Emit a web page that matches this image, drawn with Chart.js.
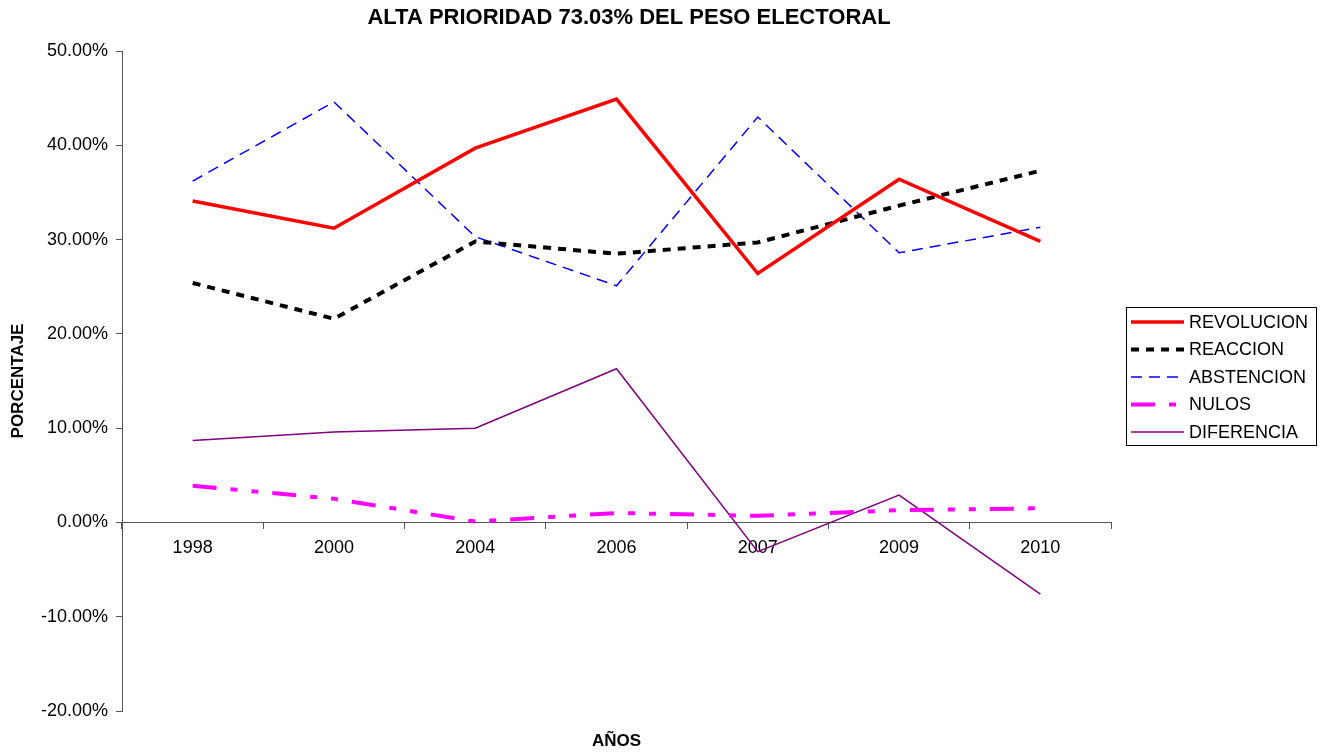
<!DOCTYPE html>
<html><head><meta charset="utf-8">
<script src="https://cdn.jsdelivr.net/npm/chart.js@4/dist/chart.umd.min.js"></script>
<style>html,body{margin:0;padding:0;background:#fff;}#wrap{width:1325px;height:752px;position:relative;}</style>
</head><body><div id="wrap"><canvas id="c" width="1325" height="752"></canvas></div>
<script>
const years = ['1998','2000','2004','2006','2007','2009','2010'];
const revolucion = [34.1, 31.2, 39.7, 44.9, 26.4, 36.4, 29.8];
const reaccion   = [25.4, 21.6, 29.8, 28.5, 29.7, 33.6, 37.3];
const abstencion = [36.2, 44.6, 30.3, 25.1, 43.0, 28.6, 31.3];
const nulos      = [3.9, 2.5, 0.1, 1.0, 0.7, 1.3, 1.5];
const diferencia = [8.7, 9.6, 10.0, 16.3, -3.1, 2.9, -7.6];
const seriesNames = ['REVOLUCION','REACCION','ABSTENCION','NULOS','DIFERENCIA'];
const yMin = -20, yMax = 50, yStep = 10;
const titleText = 'ALTA PRIORIDAD 73.03% DEL PESO ELECTORAL';
const yTitle = 'PORCENTAJE';
const xTitle = 'AÑOS';

const FONT = "'Liberation Sans', Arial, sans-serif";

const datasets = [
  {label: seriesNames[0], data: revolucion, borderColor:'#ff0000', borderWidth:3.5, borderDash:[]},
  {label: seriesNames[1], data: reaccion, borderColor:'#000000', borderWidth:4, borderDash:[8,7]},
  {label: seriesNames[2], data: abstencion, borderColor:'#0000ff', borderWidth:1.5, borderDash:[11,7]},
  {label: seriesNames[3], data: nulos, borderColor:'#ff00ff', borderWidth:4, borderDash:[24,14,7,14,7,14]},
  {label: seriesNames[4], data: diferencia, borderColor:'#800080', borderWidth:1.5, borderDash:[]}
].map(d => Object.assign(d, {fill:false, tension:0, pointRadius:0, pointHoverRadius:0, borderCapStyle:'butt', borderJoinStyle:'miter'}));

const textPlugin = {
  id:'texts',
  afterDraw(chart){
    const ctx = chart.ctx;
    const ca = chart.chartArea;
    ctx.save();
    ctx.fillStyle = '#000';
    ctx.textAlign = 'center';
    ctx.textBaseline = 'middle';
    ctx.font = "bold 22px " + FONT;
    ctx.fillText(titleText, 629, 18);
    ctx.font = "bold 17px " + FONT;
    ctx.fillText(xTitle, (ca.left+ca.right)/2, 741);
    ctx.save();
    ctx.translate(18, (ca.top+ca.bottom)/2);
    ctx.rotate(-Math.PI/2);
    ctx.fillText(yTitle, 0, 0);
    ctx.restore();
    // legend
    const lx = 1126.5, ly = 307.5, lw = 190, lh = 138;
    ctx.fillStyle = '#fff';
    ctx.fillRect(lx, ly, lw, lh);
    ctx.strokeStyle = '#000';
    ctx.lineWidth = 1;
    ctx.strokeRect(lx, ly, lw, lh);
    chart.data.datasets.forEach((ds, i) => {
      const y = 322 + i*27.5;
      ctx.save();
      ctx.strokeStyle = ds.borderColor;
      ctx.lineWidth = ds.borderWidth;
      ctx.lineCap = 'butt';
      ctx.setLineDash(ds.borderDash || []);
      ctx.beginPath();
      ctx.moveTo(1131, y);
      ctx.lineTo(1184, y);
      ctx.stroke();
      ctx.restore();
      ctx.fillStyle = '#000';
      ctx.textAlign = 'left';
      ctx.font = "18px " + FONT;
      ctx.fillText(ds.label, 1189, y+1);
    });
    ctx.restore();
  }
};

new Chart(document.getElementById('c'), {
  type:'line',
  data:{labels: years, datasets},
  options:{
    responsive:false, animation:false,
    layout:{padding:{top:51, right:214, bottom:41, left:0}},
    plugins:{legend:{display:false}, title:{display:false}, tooltip:{enabled:false}},
    scales:{
      x:{
        type:'category', position:{y:0}, offset:true,
        grid:{display:true, drawOnChartArea:false, drawTicks:true, tickLength:6, color:'#555', offset:true, lineWidth:1},
        border:{display:true, color:'#555', width:1},
        ticks:{color:'#000', font:{family:FONT, size:18}, padding:9, maxRotation:0, autoSkip:false}
      },
      y:{
        min:yMin, max:yMax,
        grid:{display:true, drawOnChartArea:false, drawTicks:true, tickLength:6, color:'#555', lineWidth:1},
        border:{display:true, color:'#555', width:1},
        ticks:{stepSize:yStep, color:'#000', font:{family:FONT, size:18}, padding:8, callback:v => v.toFixed(2)+'%'},
        afterFit(s){ s.width = 122; }
      }
    }
  },
  plugins:[textPlugin]
});
</script></body></html>
